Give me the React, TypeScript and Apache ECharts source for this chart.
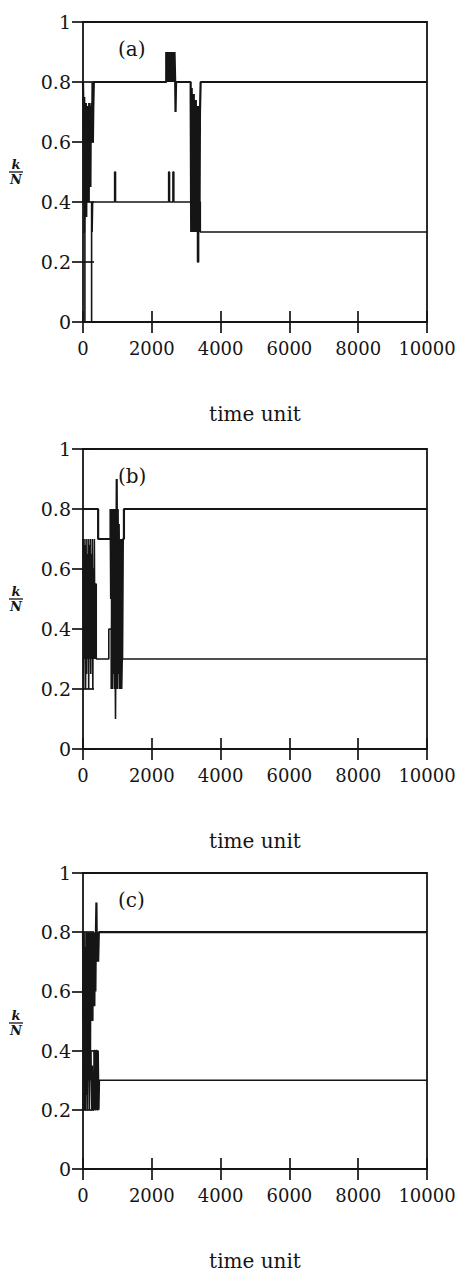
import React, { useEffect, useRef } from "react";
import * as echarts from "echarts";

// tick labels
const xTicks = [0, 2000, 4000, 6000, 8000, 10000];
const yTicks = [0, 0.2, 0.4, 0.6, 0.8, 1];
const panelLabels = ["(a)", "(b)", "(c)"];
const xTitle = "time unit";

// panel (a): [time, k/N]
const upperA: [number, number][] = [
  [0, 0.8], [12, 0.72], [24, 0.4], [36, 0.75], [48, 0.3], [60, 0.7], [72, 0.42], [84, 0.73],
  [96, 0.35], [108, 0.7], [120, 0.4], [132, 0.72], [144, 0.45], [156, 0.7], [168, 0.4],
  [180, 0.73], [192, 0.55], [204, 0.7], [216, 0.45], [228, 0.72], [240, 0.6], [252, 0.73],
  [264, 0.6], [276, 0.8], [288, 0.6], [300, 0.72], [315, 0.8],
  [2420, 0.9], [2440, 0.8], [2460, 0.9], [2480, 0.8], [2500, 0.9], [2520, 0.8], [2540, 0.9],
  [2560, 0.8], [2580, 0.9], [2600, 0.8], [2620, 0.9], [2640, 0.8], [2660, 0.9], [2680, 0.8],
  [2690, 0.7], [2705, 0.8],
  [3130, 0.75], [3145, 0.3], [3160, 0.78], [3175, 0.32], [3190, 0.72], [3205, 0.3],
  [3220, 0.76], [3235, 0.35], [3250, 0.7], [3265, 0.3], [3280, 0.74], [3295, 0.33],
  [3310, 0.7], [3325, 0.3], [3340, 0.72], [3355, 0.35], [3370, 0.68], [3385, 0.3],
  [3400, 0.7], [3420, 0.8], [10000, 0.8],
];
const lowerA: [number, number][] = [
  [0, 0.3], [55, 0], [250, 0.4], [265, 0.3], [280, 0.4], [920, 0.5], [945, 0.4],
  [2490, 0.5], [2515, 0.4], [2615, 0.5], [2640, 0.4], [3270, 0.3], [3290, 0.4],
  [3330, 0.2], [3360, 0.3], [3380, 0.4], [3410, 0.3], [10000, 0.3],
];

// panel (b)
const upperB: [number, number][] = [
  [0, 0.8], [440, 0.7], [800, 0.8], [815, 0.5], [830, 0.8], [845, 0.45], [860, 0.8],
  [875, 0.5], [890, 0.78], [905, 0.4], [920, 0.8], [935, 0.5], [950, 0.8], [965, 0.45],
  [980, 0.9], [995, 0.5], [1010, 0.8], [1025, 0.5], [1040, 0.75], [1060, 0.4], [1080, 0.7],
  [1100, 0.35], [1120, 0.7], [1140, 0.3], [1160, 0.7], [1190, 0.8], [10000, 0.8],
];
const lowerB: [number, number][] = [
  [0, 0.7], [15, 0.2], [30, 0.7], [45, 0.3], [60, 0.68], [75, 0.2], [90, 0.7], [105, 0.25],
  [120, 0.65], [135, 0.3], [150, 0.7], [165, 0.2], [180, 0.68], [195, 0.3], [210, 0.7],
  [225, 0.25], [240, 0.65], [255, 0.3], [270, 0.7], [285, 0.2], [300, 0.6], [315, 0.3],
  [330, 0.7], [345, 0.3], [360, 0.55], [385, 0.3], [750, 0.4], [820, 0.2], [835, 0.55],
  [850, 0.2], [865, 0.5], [880, 0.25], [895, 0.6], [910, 0.2], [925, 0.5], [945, 0.1],
  [960, 0.5], [975, 0.2], [990, 0.55], [1005, 0.2], [1020, 0.5], [1035, 0.25], [1050, 0.5],
  [1065, 0.2], [1080, 0.45], [1095, 0.2], [1110, 0.5], [1125, 0.2], [1140, 0.3],
  [10000, 0.3],
];

// panel (c)
const upperC: [number, number][] = [
  [0, 0.8], [12, 0.5], [24, 0.8], [36, 0.3], [48, 0.75], [60, 0.2], [72, 0.7], [84, 0.45],
  [96, 0.8], [108, 0.25], [120, 0.72], [132, 0.5], [144, 0.8], [156, 0.3], [168, 0.7],
  [180, 0.45], [192, 0.8], [204, 0.3], [216, 0.7], [228, 0.5], [240, 0.8], [252, 0.55],
  [264, 0.75], [276, 0.5], [288, 0.8], [300, 0.6], [315, 0.75], [330, 0.55], [345, 0.8],
  [360, 0.6], [375, 0.8], [390, 0.9], [405, 0.7], [420, 0.8], [440, 0.7], [460, 0.8],
  [10000, 0.8],
];
const lowerC: [number, number][] = [
  [0, 0.2], [15, 0.6], [30, 0.3], [45, 0.5], [60, 0.2], [75, 0.55], [90, 0.3], [105, 0.5],
  [120, 0.2], [135, 0.45], [150, 0.3], [165, 0.5], [180, 0.2], [195, 0.4], [210, 0.3],
  [230, 0.4], [250, 0.2], [270, 0.35], [290, 0.2], [320, 0.4], [350, 0.2], [380, 0.4],
  [410, 0.2], [440, 0.4], [460, 0.2], [475, 0.3], [10000, 0.3],
];

const panels = [
  { upper: upperA, lower: lowerA },
  { upper: upperB, lower: lowerB },
  { upper: upperC, lower: lowerC },
];

const INK = "#151515";
const FONT = "DejaVu Serif";
const gridTops = [22, 449, 873];
const gridHeights = [300, 300, 301];

export default function App() {
  const ref = useRef<HTMLDivElement>(null);
  useEffect(() => {
    if (!ref.current) return;
    const chart = echarts.init(ref.current, undefined, { renderer: "svg" });
    const grids: any[] = [];
    const xAxes: any[] = [];
    const yAxes: any[] = [];
    const series: any[] = [];
    const graphics: any[] = [];
    panels.forEach((p, i) => {
      grids.push({
        left: 83,
        top: gridTops[i],
        width: 344,
        height: gridHeights[i],
        show: true,
        borderColor: INK,
        borderWidth: 1.8,
        backgroundColor: "#fff",
      });
      const tick = { show: true, inside: true, length: 11, lineStyle: { color: INK, width: 1.7 } };
      xAxes.push({
        type: "value",
        gridIndex: i,
        position: "bottom",
        min: 0,
        max: 10000,
        interval: 2000,
        axisLine: { show: false },
        axisTick: tick,
        splitLine: { show: false },
        axisLabel: {
          color: INK,
          fontFamily: FONT,
          fontSize: 18,
          margin: 17,
          formatter: (v: number) => (xTicks.includes(v) ? String(v) : ""),
        },
        name: xTitle,
        nameLocation: "middle",
        nameGap: 82,
        nameTextStyle: { color: INK, fontFamily: FONT, fontSize: 20 },
      });
      xAxes.push({
        type: "value",
        gridIndex: i,
        position: "top",
        min: 0,
        max: 10000,
        interval: 2000,
        axisLine: { show: false },
        axisTick: tick,
        splitLine: { show: false },
        axisLabel: { show: false },
      });
      yAxes.push({
        type: "value",
        gridIndex: i,
        position: "left",
        min: 0,
        max: 1,
        interval: 0.2,
        axisLine: { show: false },
        axisTick: tick,
        splitLine: { show: false },
        axisLabel: {
          color: INK,
          fontFamily: FONT,
          fontSize: 19,
          margin: 12,
          formatter: (v: number) => {
            const t = yTicks.find((y) => Math.abs(y - v) < 1e-9);
            return t === undefined ? "" : String(t);
          },
        },
      });
      yAxes.push({
        type: "value",
        gridIndex: i,
        position: "right",
        min: 0,
        max: 1,
        interval: 0.2,
        axisLine: { show: false },
        axisTick: tick,
        splitLine: { show: false },
        axisLabel: { show: false },
      });
      series.push({
        type: "line",
        xAxisIndex: i * 2,
        yAxisIndex: i * 2,
        data: p.upper,
        step: "end",
        symbol: "none",
        lineStyle: { color: INK, width: 2.2 },
        z: 3,
      });
      series.push({
        type: "line",
        xAxisIndex: i * 2,
        yAxisIndex: i * 2,
        data: p.lower,
        step: "end",
        symbol: "none",
        lineStyle: { color: INK, width: 1.6 },
        z: 3,
      });
      const top = gridTops[i];
      graphics.push({
        type: "text",
        left: 118,
        top: top + 17,
        style: { text: panelLabels[i], fontFamily: FONT, fontSize: 20, fill: INK },
        z: 10,
      });
      const fy = top + 150;
      graphics.push({
        type: "group",
        children: [
          {
            type: "text",
            x: 16,
            y: fy - 1,
            style: {
              text: "k",
              fontFamily: FONT,
              fontStyle: "italic",
              fontWeight: "bold",
              fontSize: 13,
              fill: INK,
              align: "center",
              verticalAlign: "bottom",
            },
          },
          {
            type: "line",
            shape: { x1: 9, y1: fy, x2: 23, y2: fy },
            style: { stroke: INK, lineWidth: 1.3 },
          },
          {
            type: "text",
            x: 16,
            y: fy + 1,
            style: {
              text: "N",
              fontFamily: FONT,
              fontStyle: "italic",
              fontWeight: "bold",
              fontSize: 13,
              fill: INK,
              align: "center",
              verticalAlign: "top",
            },
          },
        ],
      });
    });
    chart.setOption({
      animation: false,
      backgroundColor: "#fff",
      grid: grids,
      xAxis: xAxes,
      yAxis: yAxes,
      series,
      graphic: graphics,
    });
    return () => chart.dispose();
  }, []);
  return (
    <div
      ref={ref}
      style={{ position: "fixed", left: 0, top: 0, width: 461, height: 1272, background: "#fff" }}
    />
  );
}
